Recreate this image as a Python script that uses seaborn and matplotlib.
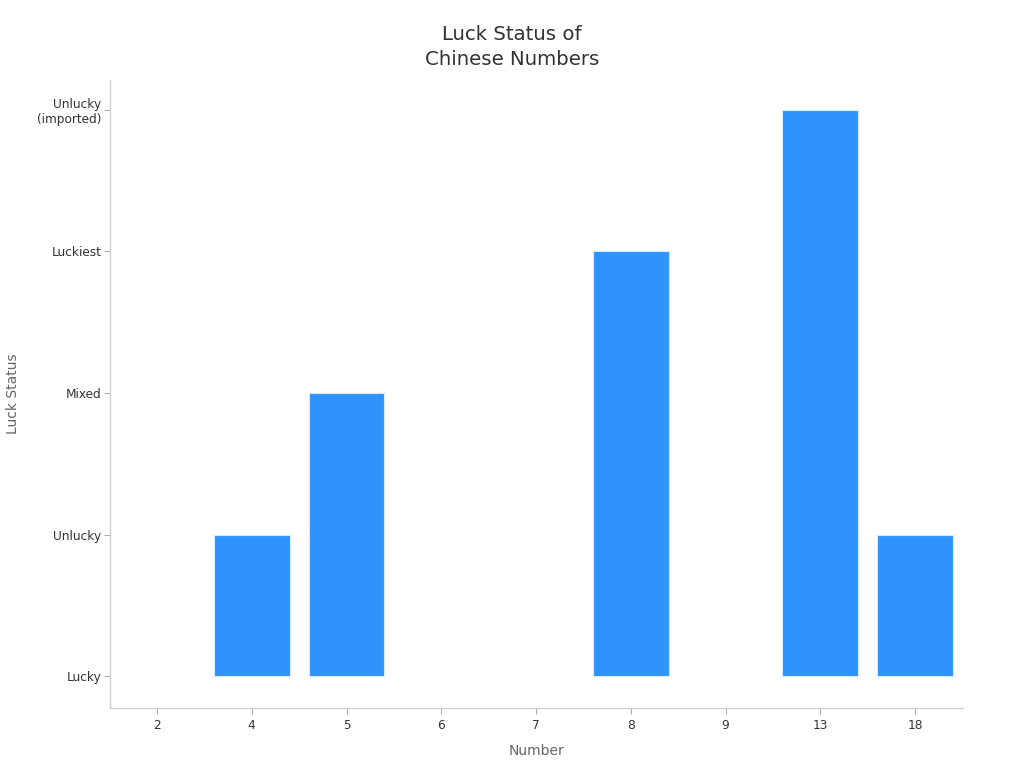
import matplotlib
matplotlib.use("Agg")
import matplotlib.pyplot as plt
import seaborn as sns
import pandas as pd

numbers = ["2", "4", "5", "6", "7", "8", "9", "13", "18"]
status_levels = ["Lucky", "Unlucky", "Mixed", "Luckiest", "Unlucky\n(imported)"]
status_values = [0, 1, 2, 0, 0, 3, 0, 4, 1]

df = pd.DataFrame({"Number": numbers, "Luck Status": status_values})

sns.set_theme(style="white")
plt.rcParams["font.family"] = ["DejaVu Sans"]

fig = plt.figure(figsize=(10.24, 7.68), dpi=100)
ax = fig.add_axes([0.107, 0.078, 0.833, 0.818])

sns.barplot(data=df, x="Number", y="Luck Status", order=numbers, color="#2E93FA",
            saturation=1, width=0.8, edgecolor="#d6e9fe", linewidth=0.8, ax=ax)
for p in ax.patches:
    if p.get_height() == 0:
        p.set_linewidth(0)
        p.set_edgecolor("none")

ax.set_xlim(-0.5, 8.5)
ax.set_ylim(-0.225, 4.21)
ax.set_yticks(range(len(status_levels)))
ax.set_yticklabels(status_levels, fontsize=8.7, color="#333333")
ax.tick_params(axis="x", labelsize=8.7, labelcolor="#333333")
ax.tick_params(axis="both", which="both", length=4, width=0.8, color="#aaaaaa", left=True, bottom=True)
ax.tick_params(axis="y", pad=2)

for s in ["top", "right"]:
    ax.spines[s].set_visible(False)
for s in ["left", "bottom"]:
    ax.spines[s].set_color("#d0d0d0")
    ax.spines[s].set_linewidth(1)

ax.set_xlabel("Number", fontsize=10, color="#666666", labelpad=9)
ax.set_ylabel("Luck Status", fontsize=10, color="#666666", labelpad=12)

fig.suptitle("Luck Status of\nChinese Numbers", fontsize=14.2, color="#333333", y=0.968,
             linespacing=1.45)

fig.savefig("out.png", dpi=100)
